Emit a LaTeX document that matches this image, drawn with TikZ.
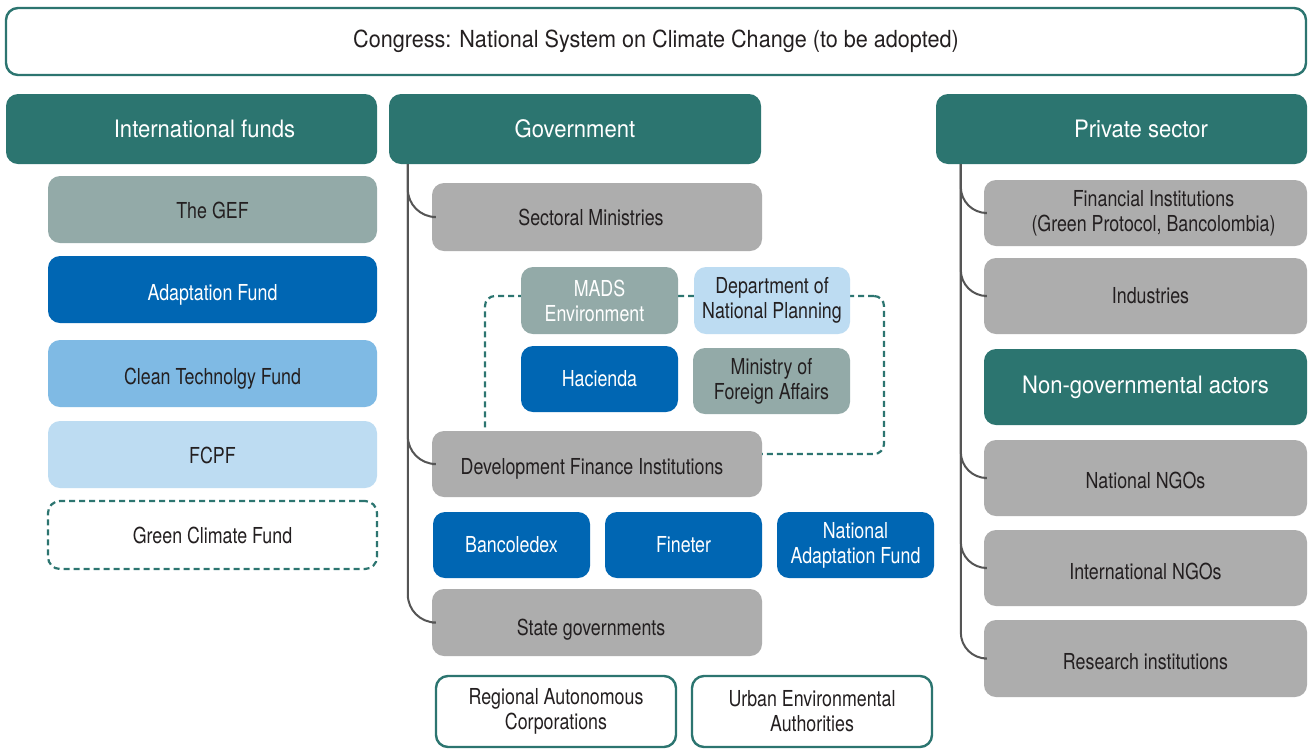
\documentclass[tikz,border=0pt]{standalone}
\usepackage{fontspec}
\setmainfont{TeX Gyre Heros}
\newfontfamily\headfont[FakeStretch=0.92]{TeX Gyre Heros}
\newfontfamily\bodyfont[FakeStretch=0.81]{TeX Gyre Heros}

\definecolor{tealdark}{RGB}{44,117,112}
\definecolor{greybox}{RGB}{173,173,173}
\definecolor{sage}{RGB}{147,170,168}
\definecolor{blueA}{RGB}{0,102,179}
\definecolor{blueB}{RGB}{127,186,228}
\definecolor{blueC}{RGB}{189,220,242}
\definecolor{linkgrey}{RGB}{85,85,85}
\definecolor{txt}{RGB}{35,31,32}

\tikzset{
  box/.style={rounded corners=12pt, inner sep=0pt, align=center, text=txt,
    font=\bodyfont\fontsize{22}{25}\selectfont},
  hdr/.style={box, fill=tealdark, text=white,
    font=\headfont\fontsize{24}{28}\selectfont},
  greyb/.style={box, fill=greybox},
  sageb/.style={box, fill=sage},
  blueb/.style={box, fill=blueA, text=white},
  midb/.style={box, fill=blueB},
  lightb/.style={box, fill=blueC},
  outlineb/.style={box, draw=tealdark, line width=2.4pt, fill=white},
  dashb/.style={box, draw=tealdark, line width=2.2pt, dash pattern=on 6pt off 4pt},
  % single-line label set a little lower in its box
  low/.style={text height=#1, text depth=5pt},
  link/.style={draw=linkgrey, line width=2pt},
}

\begin{document}
\begin{tikzpicture}[x=1pt, y=-1pt]
\useasboundingbox (0,0) rectangle (1314,748);
\fill[white] (0,0) rectangle (1314,748);

% Top level
\node[outlineb, minimum width=1300, minimum height=67,
  font=\headfont\fontsize{23.5}{27}\selectfont] (congress) at (656,41.5)
  {Congress: National System on Climate Change (to be adopted)};

% Column headers
\node[hdr, minimum width=371, minimum height=70] (intl) at (191.5,129) {\hspace*{26pt}International funds};
\node[hdr, minimum width=372, minimum height=70] (gov) at (575,129) {Government};
\node[hdr, minimum width=371, minimum height=70] (priv) at (1121.5,129) {\hspace*{39pt}Private sector};

% International funds
\node[sageb,  minimum width=329, minimum height=67, low=22] (gef)  at (212.5,209.5) {The GEF};
\node[blueb,  minimum width=329, minimum height=67, low=26] (af)   at (212.5,289.5) {Adaptation Fund};
\node[midb,   minimum width=329, minimum height=67, low=26] (ctf)  at (212.5,373.5) {Clean Technolgy Fund};
\node[lightb, minimum width=329, minimum height=67, low=23] (fcpf) at (212.5,454.5) {FCPF};
\node[dashb,  minimum width=329, minimum height=68, low=22] (gcf)  at (212.5,535) {Green Climate Fund};

% Government: ministries group outline
\node[dashb, minimum width=399, minimum height=158, rounded corners=10pt] (group) at (684.5,375) {};

% Government nodes
\node[greyb, minimum width=330, minimum height=68] (sm) at (597,217) {Sectoral Ministries\hspace*{12pt}};
\node[sageb, minimum width=157, minimum height=67, text=white] (mads) at (599.5,300.5) {MADS\\Environment\hspace*{10pt}};
\node[lightb, minimum width=156, minimum height=67] (dnp) at (772,300.5) {Department of\\National Planning};
\node[blueb, minimum width=157, minimum height=66] (hac) at (599.5,379) {Hacienda};
\node[sageb, minimum width=157, minimum height=66] (mfa) at (771.5,381) {Ministry of\\Foreign Affairs};
\node[greyb, minimum width=330, minimum height=66, low=25] (dfi) at (597,464) {Development Finance Institutions\hspace*{10pt}};
\node[blueb, minimum width=157, minimum height=66] (banc) at (511.5,545) {Bancoledex};
\node[blueb, minimum width=157, minimum height=66] (fin) at (683.5,545) {Fineter};
\node[blueb, minimum width=157, minimum height=66] (naf) at (855.5,545) {National\\Adaptation Fund};
\node[greyb, minimum width=330, minimum height=67, low=30] (sg) at (597,622.5) {State governments\hspace*{12pt}};
\node[outlineb, minimum width=240, minimum height=71] (rac) at (556,711.5) {Regional Autonomous\\Corporations};
\node[outlineb, minimum width=240, minimum height=71] (uea) at (812,711.5) {Urban Environmental\\Authorities};

% Private sector and non-governmental nodes
\node[greyb, minimum width=323, minimum height=66] (fi) at (1145.5,213) {\hspace*{16pt}Financial Institutions\\\hspace*{16pt}(Green Protocol, Bancolombia)};
\node[greyb, minimum width=323, minimum height=76] (ind) at (1145.5,296) {\hspace*{10pt}Industries};
\node[hdr, minimum width=323, minimum height=76] (nga) at (1145.5,387) {Non-governmental actors};
\node[greyb, minimum width=323, minimum height=76, low=25] (nngo) at (1145.5,478) {National NGOs};
\node[greyb, minimum width=323, minimum height=76, low=27] (ingo) at (1145.5,568) {International NGOs};
\node[greyb, minimum width=323, minimum height=77, low=26] (ri) at (1145.5,658.5) {Research institutions};

% Government connectors
\foreach \t in {sm,dfi,sg}
  \draw[link, rounded corners=28pt] ([xshift=19pt]gov.south west) |- (\t.west);

% Private sector connectors
\foreach \t in {fi,ind,nngo,ingo,ri}
  \draw[link, rounded corners=26pt] ([xshift=25pt]priv.south west) |- (\t.west);
\end{tikzpicture}
\end{document}
